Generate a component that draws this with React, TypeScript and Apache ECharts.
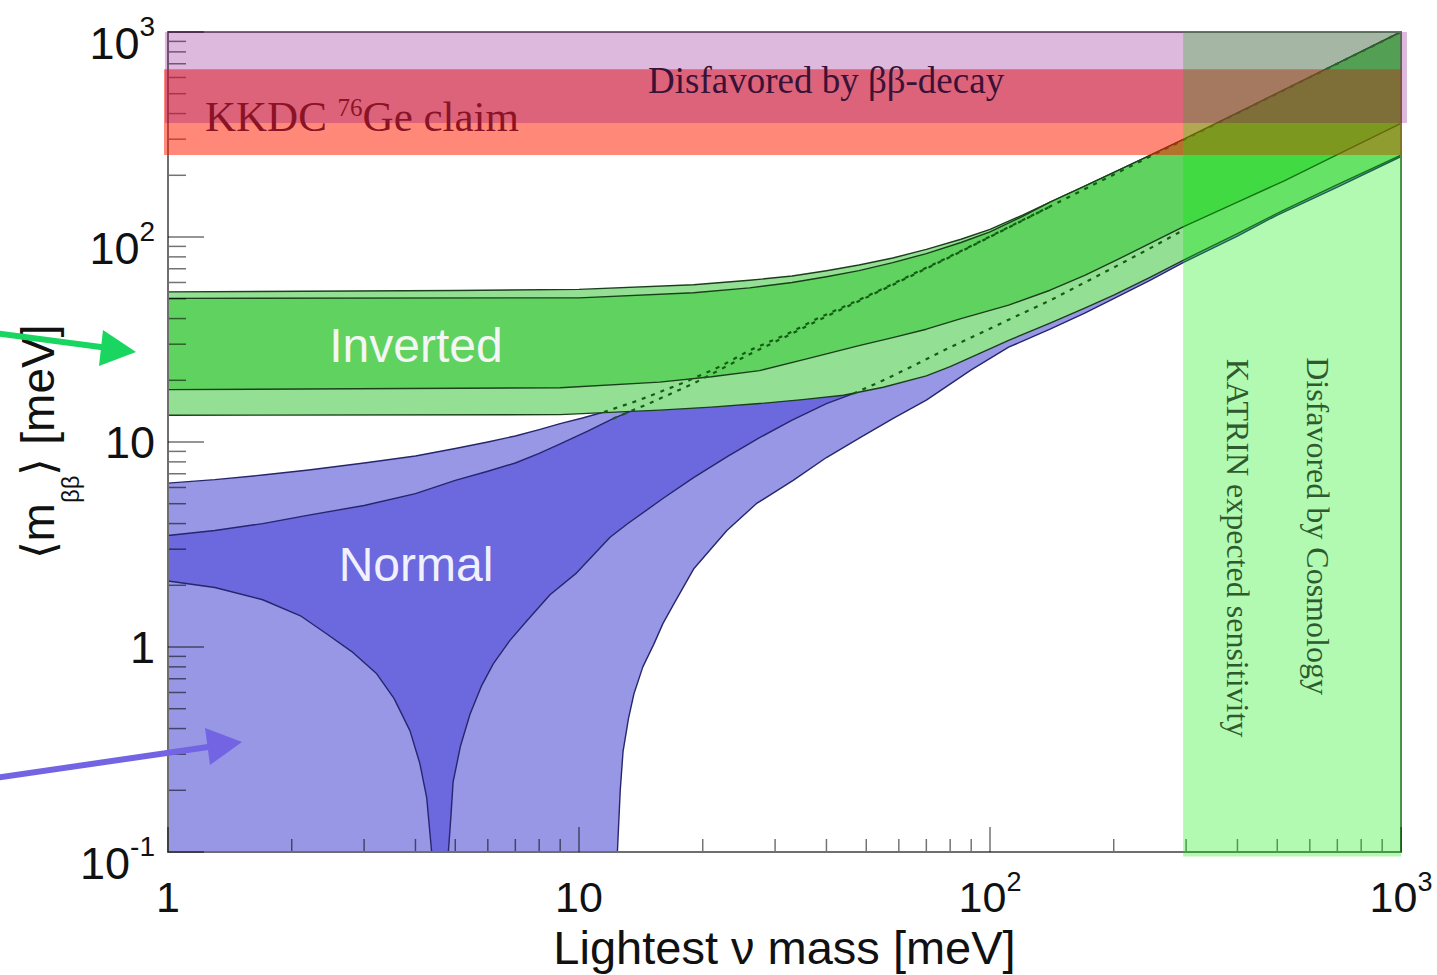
import React, { useEffect, useRef } from "react";
import * as echarts from "echarts";

type Pt = [number, number];

// ---- Normal hierarchy (lightest mass [meV], <m_bb> [meV]) ----
const normalUpper3: Pt[] = [[1, 6.3], [1.3, 6.55], [1.7, 6.9], [2.2, 7.3], [3, 7.9], [4, 8.55], [5, 9.3], [6, 10], [7, 10.7], [8, 11.5], [9, 12.3], [10.2, 13.1], [11.5, 14]];
const normalUpper3Hidden: Pt[] = [[11.5, 14], [14, 16], [18, 19.5], [22, 23.3], [26, 28], [32, 33.5], [38, 40], [46, 47.5], [55, 56], [65, 66], [80, 80.5], [100, 100.5], [140, 141], [250, 252], [500, 501], [1000, 1000]];
const normalUpper1: Pt[] = [[1, 3.5], [1.3, 3.7], [1.7, 4.0], [2.2, 4.4], [3, 4.9], [4, 5.6], [5, 6.5], [6, 7.2], [7, 7.9], [8, 8.8], [9, 9.8], [10.5, 11.3], [12.1, 13]];
const normalUpper1Hidden: Pt[] = [[12.1, 13], [15, 15.6], [19, 19.3], [26, 26.8], [32, 32.8], [38, 39], [46, 46.8], [55, 55.5], [80, 80], [140, 140.5]];
const normalLower1Left: Pt[] = [[1, 2.1], [1.3, 1.95], [1.7, 1.7], [2.1, 1.42], [2.43, 1.16], [2.8, 0.95], [3.22, 0.74], [3.55, 0.56], [3.88, 0.39], [4.1, 0.27], [4.26, 0.184], [4.38, 0.1]];
const normalLower1Right: Pt[] = [[4.81, 0.1], [4.88, 0.15], [4.94, 0.22], [5.15, 0.33], [5.43, 0.47], [5.8, 0.65], [6.19, 0.83], [6.8, 1.08], [7.46, 1.34], [8.5, 1.8], [9.87, 2.3], [11.9, 3.43], [13.1, 3.98], [16, 5.3], [19, 6.7], [23, 8.5], [27.5, 10.5], [33, 12.8], [40, 15.4], [46.5, 17.2]];
const normalLower1Hidden: Pt[] = [[46.5, 17.2], [55, 20], [65, 23.5], [80, 29], [95, 34], [111, 39.5], [140, 49], [170, 60], [200, 71], [245, 88], [295, 108]];
const normalLower3: Pt[] = [[12.4, 0.1], [12.6, 0.2], [12.8, 0.31], [13.2, 0.45], [13.6, 0.59], [14.3, 0.8], [15.2, 1.03], [16, 1.3], [17, 1.62], [19, 2.4], [22.9, 3.7], [27, 5.0], [33.2, 6.5], [40, 8.4], [48.3, 10.5], [58, 13], [70, 16], [90, 22.5], [111, 29], [140, 35.5], [170, 42.5], [200, 50], [245, 61.5], [295, 75], [400, 101], [500, 128], [700, 175], [1000, 247]];

// ---- Inverted hierarchy ----
const invertedUpper3: Pt[] = [[1, 54], [5, 54.8], [10, 55.5], [19, 58.5], [26, 61.5], [33, 64.5], [40, 68.5], [48, 73], [58, 79], [70, 87], [85, 97.5], [100, 109], [120, 128], [140, 148], [170, 177], [210, 216], [245, 250], [300, 304], [430, 433], [600, 602], [750, 751], [1000, 1000]];
const invertedUpper1: Pt[] = [[1, 50.2], [10, 50.5], [19, 53.5], [26, 56.5], [33, 60], [40, 64], [48, 68.5], [58, 75], [70, 83], [85, 94], [100, 106], [120, 126], [140, 148]];
const invertedLower1: Pt[] = [[1, 18], [9, 18.4], [15.7, 19.6], [21, 20.8], [27.5, 22.3], [36, 25.5], [48, 29.5], [58, 32.3], [70, 35.5], [85, 40], [111, 46.5], [140, 55], [170, 65], [200, 76], [245, 93], [295, 112], [400, 148], [517, 187], [700, 252], [1000, 358]];
const invertedLower3: Pt[] = [[1, 13.5], [9, 13.6], [15.7, 14.3], [21, 14.8], [27.5, 15.4], [35, 16.1], [44, 16.9], [55, 18.5], [70, 21], [80, 23.3], [95, 27.2], [111, 31.3], [140, 38], [170, 45], [200, 52], [245, 63.5], [295, 77], [400, 104], [517, 135], [700, 180], [1000, 251]];

// ---- Excluded / sensitivity bands ----
const kkdcBandX = [0.978, 1000];
const kkdcBandY = [251, 659];
const katrinBandX = [295, 1000];
const katrinBandY = [0.095, 1000];
const betaBandX = [0.983, 1034];
const betaBandY = [360, 1000];

// ---- Minor ticks ----
const xMinorTicks = [2, 3, 4, 5, 6, 7, 8, 9, 20, 30, 40, 50, 60, 70, 80, 90, 200, 300, 400, 500, 600, 700, 800, 900];
const yMinorTicks = [0.2, 0.3, 0.4, 0.5, 0.6, 0.7, 0.8, 0.9, 2, 3, 4, 5, 6, 7, 8, 9, 20, 30, 40, 50, 60, 70, 80, 90, 200, 300, 400, 500, 600, 700, 800, 900];

const SANS = '"Liberation Sans", Arial, sans-serif';
const SERIF = '"Liberation Serif", "Times New Roman", serif';
const TICK = "rgba(0,0,0,0.55)";

const rev = (a: Pt[]) => [...a].reverse();

function polygonSeries(name: string, pts: Pt[], fill: string, stroke: string, z: number) {
  return {
    type: "custom",
    name,
    z,
    silent: true,
    coordinateSystem: "cartesian2d",
    data: [pts[0]],
    renderItem: (_p: any, api: any) => ({
      type: "polygon",
      shape: { points: pts.map((p) => api.coord(p)) },
      style: { fill, stroke, lineWidth: 1.4, lineJoin: "round" },
    }),
  };
}

function bandSeries(name: string, xr: number[], yr: number[], fill: string) {
  return {
    type: "custom",
    name,
    z: 4,
    silent: true,
    clip: false,
    coordinateSystem: "cartesian2d",
    data: [[xr[0], yr[0]]],
    renderItem: (_p: any, api: any) => {
      const a = api.coord([xr[0], yr[1]]);
      const b = api.coord([xr[1], yr[0]]);
      return {
        type: "rect",
        shape: { x: a[0], y: a[1], width: b[0] - a[0], height: b[1] - a[1] },
        style: { fill },
      };
    },
  };
}

function dottedSeries(name: string, pts: Pt[]) {
  return {
    type: "line",
    name,
    z: 2,
    silent: true,
    data: pts,
    symbol: "none",
    lineStyle: { color: "#135e13", width: 2.2, type: [4, 6] },
  };
}

const supLabel = (v: number) => {
  const e = Math.round(Math.log10(v));
  if (e === 0) return "{p|1}";
  if (e === 1) return "{p|10}";
  return `{b|10}{s|${e}}`;
};

export default function App() {
  const ref = useRef<HTMLDivElement>(null);
  useEffect(() => {
    if (!ref.current) return;
    const chart = echarts.init(ref.current, undefined, { renderer: "svg" });

    const lightBlue: Pt[] = [[1, 0.1], ...normalUpper3, ...normalUpper3Hidden.slice(1), ...rev(normalLower3)];
    const darkBlue: Pt[] = [
      ...normalUpper1,
      ...normalUpper1Hidden.slice(1),
      ...rev(normalLower1Hidden),
      ...rev(normalLower1Right).slice(1),
      ...rev(normalLower1Left),
    ];
    const lightGreen: Pt[] = [...invertedUpper3, ...rev(invertedLower3)];
    const darkGreen: Pt[] = [
      ...invertedUpper1,
      ...invertedUpper3.filter((p) => p[0] > 140),
      ...rev(invertedLower1),
    ];

    const option: any = {
      animation: false,
      grid: {
        left: 168,
        right: 36,
        top: 32,
        bottom: 123,
        show: true,
        z: 3,
        borderColor: "#6e6e6e",
        borderWidth: 2,
        backgroundColor: "transparent",
        containLabel: false,
        outerBoundsMode: "none",
      },
      xAxis: {
        type: "log",
        logBase: 10,
        min: 1,
        max: 1000,
        z: 3,
        name: "Lightest ν mass [meV]",
        nameLocation: "middle",
        nameGap: 72,
        nameMoveOverlap: false,
        nameTextStyle: { fontSize: 47, lineHeight: 47, fontFamily: SANS, color: "#111" },
        axisLine: { show: true, lineStyle: { color: "#6e6e6e", width: 2 } },
        axisTick: { show: true, inside: true, length: 25, lineStyle: { color: TICK, width: 1.5 } },
        splitLine: { show: false },
        minorTick: { show: false },
        axisLabel: {
          margin: 23,
          formatter: supLabel,
          color: "#111",
          rich: {
            p: { fontSize: 43, lineHeight: 43, fontFamily: SANS, color: "#111" },
            b: { fontSize: 43, lineHeight: 43, fontFamily: SANS, color: "#111" },
            s: { fontSize: 27, lineHeight: 13, padding: [0, 0, 30, 0], fontFamily: SANS, color: "#111" },
          },
        },
      },
      yAxis: {
        type: "log",
        logBase: 10,
        min: 0.1,
        max: 1000,
        z: 3,
        name: "⟨m{sub|ββ}⟩ [meV]",
        nameLocation: "middle",
        nameGap: 107,
        nameMoveOverlap: false,
        nameTextStyle: {
          fontSize: 46,
          fontFamily: SANS,
          color: "#111",
          rich: {
            sub: { fontSize: 24, lineHeight: 24, padding: [64, 0, 0, 0], fontFamily: SANS, color: "#111" },
          },
        },
        axisLine: { show: true, lineStyle: { color: "#6e6e6e", width: 2 } },
        axisTick: { show: true, inside: true, length: 36, lineStyle: { color: TICK, width: 1.5 } },
        splitLine: { show: false },
        minorTick: { show: false },
        axisLabel: {
          margin: 13,
          formatter: supLabel,
          color: "#111",
          rich: {
            p: { fontSize: 45, lineHeight: 45, fontFamily: SANS, color: "#111" },
            b: { fontSize: 45, lineHeight: 45, padding: [23, 0, 0, 0], fontFamily: SANS, color: "#111" },
            s: { fontSize: 28, lineHeight: 28, padding: [0, 0, 11, 0], fontFamily: SANS, color: "#111" },
          },
        },
      },
      series: [
        polygonSeries("Normal 3σ", lightBlue, "#9797e6", "#26266e", 1),
        polygonSeries("Normal", darkBlue, "#6b69dd", "#26266e", 1),
        polygonSeries("Inverted 3σ", lightGreen, "#93df93", "#1b3f1b", 1),
        polygonSeries("Inverted", darkGreen, "#5fd25f", "#1b3f1b", 1),
        dottedSeries("Normal upper (3σ)", normalUpper3Hidden),
        dottedSeries("Normal upper", normalUpper1Hidden),
        dottedSeries("Normal lower", normalLower1Hidden),
        {
          type: "custom",
          name: "x minor ticks",
          z: 3,
          silent: true,
          data: xMinorTicks.map((v) => [v, 0.1]),
          renderItem: (_p: any, api: any) => {
            const p = api.coord([api.value(0), api.value(1)]);
            return { type: "line", shape: { x1: p[0], y1: p[1], x2: p[0], y2: p[1] - 13 }, style: { stroke: TICK, lineWidth: 1.5 } };
          },
        },
        {
          type: "custom",
          name: "y minor ticks",
          z: 3,
          silent: true,
          data: yMinorTicks.map((v) => [1, v]),
          renderItem: (_p: any, api: any) => {
            const p = api.coord([api.value(0), api.value(1)]);
            return { type: "line", shape: { x1: p[0], y1: p[1], x2: p[0] + 18, y2: p[1] }, style: { stroke: TICK, lineWidth: 1.5 } };
          },
        },
        bandSeries("KKDC claim", kkdcBandX, kkdcBandY, "rgba(255,30,0,0.53)"),
        bandSeries("KATRIN / Cosmology", katrinBandX, katrinBandY, "rgba(0,240,0,0.3)"),
        bandSeries("Disfavored by ββ-decay", betaBandX, betaBandY, "rgba(128,0,128,0.27)"),
      ],
      graphic: [
        {
          type: "text", z: 100, x: 648, y: 80,
          style: { text: "Disfavored by ββ-decay", fill: "#3a1238", font: `37px ${SERIF}`, align: "left", verticalAlign: "middle", textAlign: "left", textVerticalAlign: "middle" },
        },
        {
          type: "text", z: 100, x: 205, y: 116,
          style: {
            text: "{a|KKDC }{s|76}{a|Ge claim}",
            fill: "#8a1426",
            align: "left", verticalAlign: "middle", textAlign: "left", textVerticalAlign: "middle",
            rich: {
              a: { fontSize: 43, lineHeight: 43, fontFamily: SERIF, fill: "#8a1426", color: "#8a1426" },
              s: { fontSize: 25, lineHeight: 25, padding: [0, 0, 18, 0], fontFamily: SERIF, fill: "#8a1426", color: "#8a1426" },
            },
          },
        },
        {
          type: "text", z: 100, x: 416, y: 345,
          style: { text: "Inverted", fill: "#f3f6f3", font: `48px ${SANS}`, align: "center", verticalAlign: "middle", textAlign: "center", textVerticalAlign: "middle" },
        },
        {
          type: "text", z: 100, x: 416, y: 564,
          style: { text: "Normal", fill: "#f0f0ff", font: `48px ${SANS}`, align: "center", verticalAlign: "middle", textAlign: "center", textVerticalAlign: "middle" },
        },
        {
          type: "text", z: 100, x: 1317.5, y: 526, rotation: -Math.PI / 2,
          style: { text: "Disfavored by Cosmology", fill: "#2f5a2f", font: `32px ${SERIF}`, align: "center", verticalAlign: "middle", textAlign: "center", textVerticalAlign: "middle" },
        },
        {
          type: "text", z: 100, x: 1238, y: 548, rotation: -Math.PI / 2,
          style: { text: "KATRIN expected sensitivity", fill: "#2f5a2f", font: `32px ${SERIF}`, align: "center", verticalAlign: "middle", textAlign: "center", textVerticalAlign: "middle" },
        },
        {
          type: "line", z: 100,
          shape: { x1: -5, y1: 333, x2: 112, y2: 348.5 },
          style: { stroke: "#18d660", lineWidth: 6 },
        },
        {
          type: "polygon", z: 100,
          shape: { points: [[136, 352], [103, 330], [99, 366]] },
          style: { fill: "#18d660" },
        },
        {
          type: "line", z: 100,
          shape: { x1: -5, y1: 778, x2: 215, y2: 746 },
          style: { stroke: "#7264e3", lineWidth: 6 },
        },
        {
          type: "polygon", z: 100,
          shape: { points: [[242, 742], [205, 728], [210, 765]] },
          style: { fill: "#7264e3" },
        },
      ],
    };

    chart.setOption(option);
    return () => chart.dispose();
  }, []);

  return (
    <div
      ref={ref}
      style={{ position: "fixed", left: 0, top: 0, width: 1437, height: 975, background: "#fff" }}
    />
  );
}
